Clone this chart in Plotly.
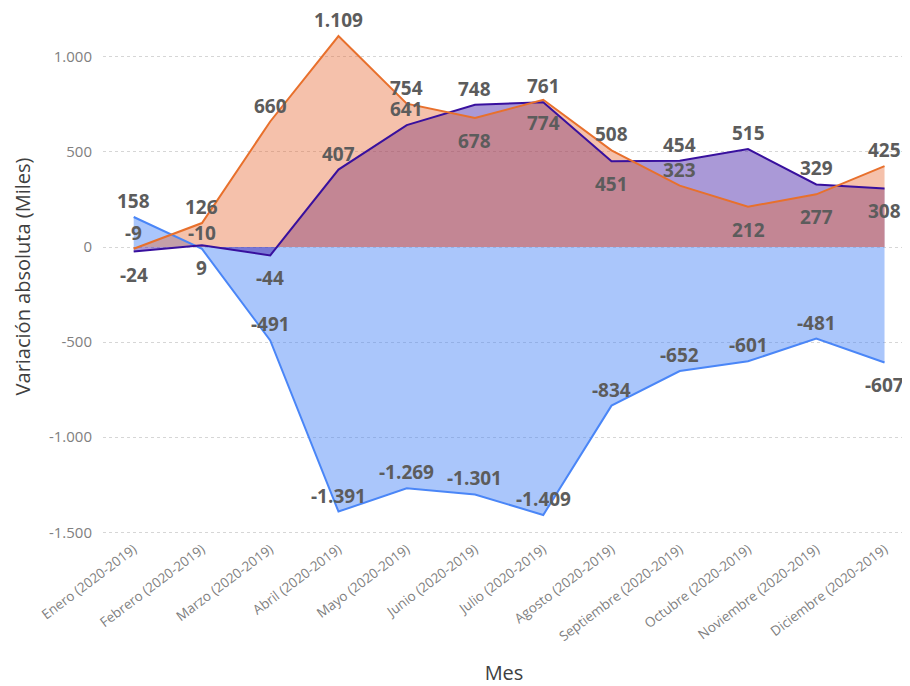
import plotly.graph_objects as go

meses = ["Enero (2020-2019)", "Febrero (2020-2019)", "Marzo (2020-2019)", "Abril (2020-2019)",
         "Mayo (2020-2019)", "Junio (2020-2019)", "Julio (2020-2019)", "Agosto (2020-2019)",
         "Septiembre (2020-2019)", "Octubre (2020-2019)", "Noviembre (2020-2019)", "Diciembre (2020-2019)"]

serie_azul = [158, -10, -491, -1391, -1269, -1301, -1409, -834, -652, -601, -481, -607]
serie_morada = [-24, 9, -44, 407, 641, 748, 761, 451, 454, 515, 329, 308]
serie_naranja = [-9, 126, 660, 1109, 754, 678, 774, 508, 323, 212, 277, 425]

# label placement: "a" = above the point, "b" = below the point
pos_azul = ["a"] * 11 + ["b"]
pos_morada = ["b", "b", "b", "a", "a", "a", "a", "b", "a", "a", "a", "b"]
pos_naranja = ["a", "a", "a", "a", "a", "b", "b", "a", "a", "b", "b", "a"]

y_ticks = [1000, 500, 0, -500, -1000, -1500]


def fmt(v):
    s = f"{abs(v):,}".replace(",", ".")
    return ("-" if v < 0 else "") + s


fig = go.Figure()

series = [
    (serie_azul, pos_azul, "#4a86f7", "rgba(74,134,247,0.47)"),
    (serie_morada, pos_morada, "#38109e", "rgba(58,18,163,0.43)"),
    (serie_naranja, pos_naranja, "#e8702c", "rgba(230,108,55,0.42)"),
]
# filled areas first
for vals, pos, lc, fc in series:
    fig.add_trace(go.Scatter(
        x=meses, y=vals, mode="lines",
        line=dict(color=lc, width=0),
        fill="tozeroy", fillcolor=fc,
        hoverinfo="skip", showlegend=False,
    ))
# lines on top of all areas
for vals, pos, lc, fc in series:
    fig.add_trace(go.Scatter(
        x=meses, y=vals, mode="lines",
        line=dict(color=lc, width=2),
        hoverinfo="skip", showlegend=False,
    ))

for vals, pos, lc, fc in series:
    for m, v, p in zip(meses, vals, pos):
        fig.add_annotation(
            x=m, y=v, text=fmt(v), showarrow=False,
            xanchor="center", yanchor="middle",
            yshift=16 if p == "a" else -23,
            font=dict(family="Open Sans, sans-serif", size=19, color="#5c5c5c", weight="bold"),
        )

fig.update_layout(
    width=902, height=678,
    margin=dict(l=95, r=5, t=7, b=148),
    paper_bgcolor="white", plot_bgcolor="white",
    font=dict(family="Open Sans, sans-serif", color="#666"),
    xaxis=dict(
        type="category", range=[-0.45, 11.3], automargin=False,
        tickangle=-37, tickfont=dict(size=13.5, color="#808080"),
        showgrid=False, zeroline=False, showline=False, ticks="",
        title=dict(text="Mes", font=dict(size=20, color="#404040"), standoff=30),
    ),
    yaxis=dict(
        range=[-1530, 1220], automargin=False,
        tickvals=y_ticks, ticktext=[fmt(v) for v in y_ticks],
        tickfont=dict(size=15, color="#808080"),
        showgrid=True, gridcolor="#d6d6d6", griddash="dot", gridwidth=1,
        zeroline=False, ticks="", ticklabelstandoff=10,
        title=dict(text="Variación absoluta (Miles)", font=dict(size=20, color="#404040"), standoff=12),
    ),
)

fig.write_html("out.html")
